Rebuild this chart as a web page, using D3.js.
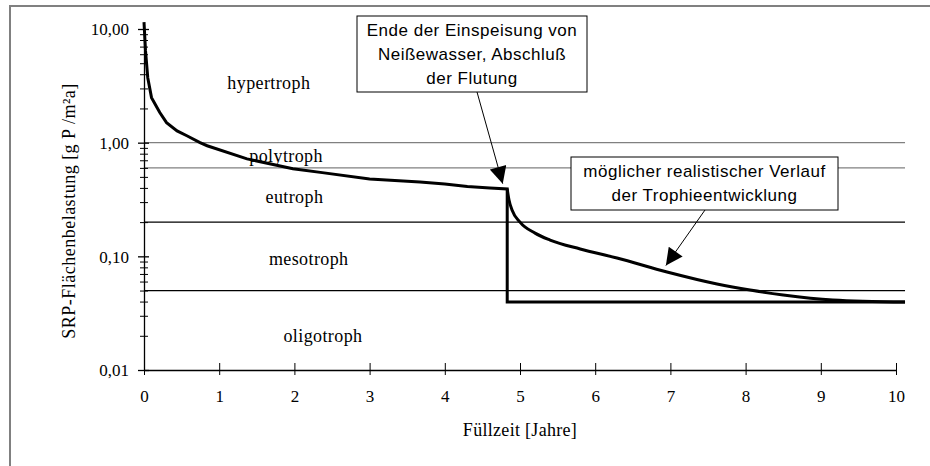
<!DOCTYPE html>
<html>
<head>
<meta charset="utf-8">
<script src="https://cdn.jsdelivr.net/npm/d3@7"></script>
<style>
  body { margin: 0; background: #fff; }
  svg { display: block; }
  .serif { font-family: "Liberation Serif", "Times New Roman", serif; fill: #000; }
  .sans { font-family: "Liberation Sans", Arial, sans-serif; fill: #000; }
</style>
</head>
<body>
<svg id="chart" width="930" height="466"></svg>
<script>
// measured course (years, g P/m²a)
const yearsMeasured = [0, 0.02, 0.05, 0.1, 0.21, 0.3, 0.44, 0.57, 0.745, 0.84, 1.37, 1.98, 2.37, 3.0, 3.67, 4.0, 4.3, 4.6, 4.83, 4.83, 10.12];
const loadMeasured = [11.5, 6.45, 3.73, 2.49, 1.84, 1.5, 1.27, 1.15, 1.0, 0.94, 0.72, 0.59, 0.545, 0.48, 0.451, 0.433, 0.412, 0.399, 0.391, 0.0396, 0.0396];

// possible realistic course
const yearsRealistic = [4.83, 4.854, 4.894, 5.0, 5.2, 5.4, 5.8, 6.29, 6.955, 7.62, 8.06, 8.5, 9.16, 10.12];
const loadRealistic = [0.391, 0.313, 0.256, 0.200, 0.160, 0.139, 0.116, 0.0966, 0.0728, 0.0571, 0.0505, 0.0457, 0.0413, 0.0396];

// trophic class limits
const limitValues = [1.0, 0.6, 0.2, 0.05];
const limitDark = [false, false, true, true];

const classNames = ["hypertroph", "polytroph", "eutroph", "mesotroph", "oligotroph"];
const classYears = [1.66, 1.89, 2.0, 2.19, 2.38];
const classLoads = [3.37, 0.77, 0.33, 0.094, 0.02];

const xTicks = [0, 1, 2, 3, 4, 5, 6, 7, 8, 9, 10];
const yMajor = [0.01, 0.1, 1, 10];

const xMax = 10.12;

const svg = d3.select("#chart");

// outer frame (cut off at right and bottom)
svg.append("path")
  .attr("d", "M10,466 L10,6 L930,6")
  .attr("fill", "none").attr("stroke", "#808080").attr("stroke-width", 2);

const x = d3.scaleLinear().domain([0, 10]).range([144, 896]);
const y = d3.scaleLog().domain([0.01, 10]).range([370, 29]);

const loc = d3.formatLocale({decimal: ",", thousands: ".", grouping: [3], currency: ["", "€"]});
const fmt = loc.format(".2f");

// class limit lines
svg.append("g").selectAll("line")
  .data(limitValues)
  .join("line")
  .attr("x1", x(0)).attr("x2", x(xMax))
  .attr("y1", d => y(d)).attr("y2", d => y(d))
  .attr("stroke", (d, i) => limitDark[i] ? "#000" : "#808080")
  .attr("stroke-width", (d, i) => limitDark[i] ? 1.3 : 1.2);

// class labels
svg.append("g").selectAll("text")
  .data(classNames)
  .join("text")
  .attr("class", "serif")
  .attr("x", (d, i) => x(classYears[i]))
  .attr("y", (d, i) => y(classLoads[i]))
  .attr("text-anchor", "middle")
  .attr("dominant-baseline", "central")
  .style("font-size", "18px")
  .style("letter-spacing", "0.4px")
  .text(d => d);

// y axis
const yMinor = [];
for (let dec = 0.01; dec < 10; dec *= 10) {
  for (let k = 2; k <= 9; k++) yMinor.push(+(dec * k).toPrecision(3));
}

const gyMinor = svg.append("g")
  .attr("transform", `translate(${x(0)},0)`)
  .call(d3.axisLeft(y).tickValues(yMinor).tickSize(4).tickFormat(""));
gyMinor.select(".domain").remove();
gyMinor.selectAll(".tick line").attr("x1", 4).attr("stroke", "#000");

const gy = svg.append("g")
  .attr("transform", `translate(${x(0)},0)`)
  .call(d3.axisLeft(y).tickValues(yMajor).tickSize(6).tickSizeOuter(0).tickPadding(9).tickFormat(fmt));
gy.select(".domain").attr("stroke", "#000").attr("stroke-width", 1.3);
gy.selectAll(".tick line").attr("x1", 5).attr("stroke", "#000").attr("stroke-width", 1.3);
gy.selectAll(".tick text")
  .attr("class", "serif")
  .style("font-size", "17px")
  .attr("dy", "0.35em");

// x axis
const gx = svg.append("g")
  .attr("transform", `translate(0,${y(0.01)})`)
  .call(d3.axisBottom(x).tickValues(xTicks).tickSize(5).tickSizeOuter(0).tickPadding(15).tickFormat(d3.format("d")));
gx.select(".domain").attr("stroke", "#000").attr("stroke-width", 1.3);
gx.selectAll(".tick line").attr("y1", -7).attr("stroke", "#000");
gx.selectAll(".tick text")
  .attr("class", "serif")
  .style("font-size", "17px");

// axis titles
svg.append("text")
  .attr("class", "serif")
  .attr("transform", "translate(69,211) rotate(-90)")
  .attr("text-anchor", "middle")
  .attr("dominant-baseline", "central")
  .style("font-size", "18px")
  .style("letter-spacing", "0.5px")
  .text("SRP-Flächenbelastung [g P /m²a]");

svg.append("text")
  .attr("class", "serif")
  .attr("x", (x(0) + x(10)) / 2)
  .attr("y", 430)
  .attr("text-anchor", "middle")
  .attr("dominant-baseline", "central")
  .style("font-size", "18px")
  .style("letter-spacing", "0.3px")
  .text("Füllzeit [Jahre]");

// curves
const measured = yearsMeasured.map((d, i) => [d, loadMeasured[i]]);
const realistic = yearsRealistic.map((d, i) => [d, loadRealistic[i]]);

svg.append("path")
  .datum(realistic)
  .attr("fill", "none").attr("stroke", "#000").attr("stroke-width", 3)
  .attr("d", d3.line().x(d => x(d[0])).y(d => y(d[1])).curve(d3.curveMonotoneX));

svg.append("path")
  .datum(measured)
  .attr("fill", "none").attr("stroke", "#000").attr("stroke-width", 3)
  .attr("stroke-linejoin", "miter")
  .attr("d", d3.line().x(d => x(d[0])).y(d => y(d[1])));

// annotations
svg.append("defs").append("marker")
  .attr("id", "head")
  .attr("viewBox", "0 0 10 10")
  .attr("refX", 10).attr("refY", 5)
  .attr("markerWidth", 18).attr("markerHeight", 17)
  .attr("markerUnits", "userSpaceOnUse")
  .attr("orient", "auto")
  .append("path").attr("d", "M0,0 L10,5 L0,10 Z").attr("fill", "#000");

const notes = [
  {lines: ["Ende der Einspeisung von", "Neißewasser, Abschluß", "der Flutung"],
   box: [357, 16, 230, 76], from: [477, 92], tip: [4.77, 0.436]},
  {lines: ["möglicher realistischer Verlauf", "der Trophieentwicklung"],
   box: [571, 157, 267, 53], from: [705, 210], tip: [6.94, 0.083]}
];

notes.forEach(n => {
  svg.append("line")
    .attr("x1", n.from[0]).attr("y1", n.from[1])
    .attr("x2", x(n.tip[0])).attr("y2", y(n.tip[1]))
    .attr("stroke", "#000").attr("stroke-width", 1)
    .attr("marker-end", "url(#head)");
  svg.append("rect")
    .attr("x", n.box[0]).attr("y", n.box[1])
    .attr("width", n.box[2]).attr("height", n.box[3])
    .attr("fill", "#fff").attr("stroke", "#000").attr("stroke-width", 1);
  const lh = 24;
  const cy = n.box[1] + n.box[3] / 2 - (n.lines.length - 1) * lh / 2;
  svg.append("text")
    .attr("class", "sans")
    .attr("text-anchor", "middle")
    .style("font-size", "17px")
    .style("letter-spacing", "0.5px")
    .selectAll("tspan")
    .data(n.lines)
    .join("tspan")
    .attr("x", n.box[0] + n.box[2] / 2)
    .attr("y", (d, i) => cy + i * lh)
    .attr("dominant-baseline", "central")
    .text(d => d);
});
</script>
</body>
</html>
